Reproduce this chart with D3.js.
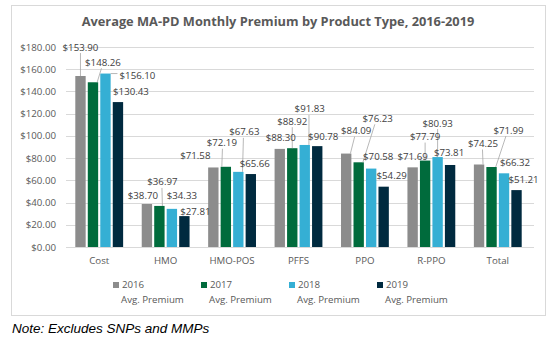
<!DOCTYPE html>
<html>
<head>
<meta charset="utf-8">
<script src="https://cdn.jsdelivr.net/npm/d3@7"></script>
<style>
  body { margin: 0; background: #fff; }
  text { font-family: "Open Sans", "Liberation Sans", sans-serif; }
</style>
</head>
<body>
<svg id="chart" width="558" height="341"></svg>
<script>
// data
const categories = ['Cost', 'HMO', 'HMO-POS', 'PFFS', 'PPO', 'R-PPO', 'Total'];
const series = ['2016', '2017', '2018', '2019'];
const premium2016 = [153.90, 38.70, 71.58, 88.30, 84.09, 71.69, 74.25];
const premium2017 = [148.26, 36.97, 72.19, 88.92, 76.23, 77.79, 71.99];
const premium2018 = [156.10, 34.33, 67.63, 91.83, 70.58, 80.93, 66.32];
const premium2019 = [130.43, 27.81, 65.66, 90.78, 54.29, 73.81, 51.21];
const yTicks = [0, 20, 40, 60, 80, 100, 120, 140, 160, 180];

// label placement offsets (dx from bar centre, dy from bar top), per series
const labelOffsets = [
  [[0, -29], [-4, -9], [-18, -12], [1, -11], [10, -23], [0, -11], [4, -21]],
  [[10, -20], [3, -24], [-4, -24], [0, -27], [19, -44], [0, -24], [17, -37]],
  [[32, 2], [10, -13], [6, -40], [5, -36], [7, -12], [0, -34], [11, -11]],
  [[13, -11], [11, -5], [4, -11], [6, -10], [8, -11], [-1, -12], [7, -11]]
];

const colors = ['#8c8c8c', '#006b3c', '#35afd4', '#002a3f'];
const allValues = [premium2016, premium2017, premium2018, premium2019];

const svg = d3.select('#chart');

// chart frame
svg.append('rect')
  .attr('x', 11.5).attr('y', 5.5)
  .attr('width', 534).attr('height', 310)
  .attr('fill', '#fff')
  .attr('stroke', '#d9d9d9');

svg.append('text')
  .attr('x', 278).attr('y', 26)
  .attr('text-anchor', 'middle')
  .attr('font-size', 12.8)
  .attr('font-weight', 'bold')
  .attr('fill', '#595959')
  .text('Average MA-PD Monthly Premium by Product Type, 2016-2019');

const x0 = d3.scaleBand().domain(categories).range([66, 531]).paddingInner(0.28).paddingOuter(0.14);
const x1 = d3.scaleBand().domain(series).range([0, x0.bandwidth()]).paddingInner(0.17);
const y = d3.scaleLinear().domain([0, 180]).range([247, 47]);

// gridlines
svg.append('g')
  .selectAll('line')
  .data(yTicks)
  .enter()
  .append('line')
  .attr('x1', 66).attr('x2', 534)
  .attr('y1', d => Math.round(y(d)) + 0.5)
  .attr('y2', d => Math.round(y(d)) + 0.5)
  .attr('stroke', '#d9d9d9');

// y axis labels
const yAxis = svg.append('g')
  .attr('transform', 'translate(66,0)')
  .call(d3.axisLeft(y).tickValues(yTicks).tickSize(0).tickPadding(10).tickFormat(d => '$' + d3.format('.2f')(d)));
yAxis.select('.domain').remove();
yAxis.selectAll('text').attr('font-size', 9.7).attr('fill', '#595959').attr('font-family', null);

// x axis labels
const xAxis = svg.append('g')
  .attr('transform', 'translate(0,247)')
  .call(d3.axisBottom(x0).tickSize(0).tickPadding(10));
xAxis.select('.domain').remove();
xAxis.selectAll('text').attr('font-size', 9.7).attr('fill', '#595959').attr('font-family', null);

// bars
const groups = svg.append('g')
  .selectAll('g')
  .data(categories)
  .enter()
  .append('g')
  .attr('transform', d => `translate(${x0(d)},0)`);

groups.selectAll('rect')
  .data((c, i) => series.map((s, j) => ({ s, j, v: allValues[j][i] })))
  .enter()
  .append('rect')
  .attr('x', d => x1(d.s))
  .attr('width', x1.bandwidth())
  .attr('y', d => y(d.v))
  .attr('height', d => y(0) - y(d.v))
  .attr('fill', d => colors[d.j]);

// data labels + leader lines
const labels = [];
categories.forEach((c, i) => {
  series.forEach((s, j) => {
    const v = allValues[j][i];
    const bx = x0(c) + x1(s) + x1.bandwidth() / 2;
    const by = y(v);
    const [dx, dy] = labelOffsets[j][i];
    labels.push({ v, bx, by, lx: bx + dx, ly: by + dy, half: x1.bandwidth() / 2 });
  });
});

svg.append('g')
  .selectAll('line')
  .data(labels.filter(d => d.ly - d.by < -18 || (d.ly > d.by - 4 && d.lx - d.bx > 20)))
  .enter()
  .append('line')
  .attr('x1', d => d.ly > d.by - 4 ? d.lx - 20 : d.lx + (d.bx - d.lx) * 0.15)
  .attr('y1', d => d.ly > d.by - 4 ? d.by : d.ly + 6)
  .attr('x2', d => d.ly > d.by - 4 ? d.bx + d.half : Math.max(d.bx - d.half + 1, Math.min(d.bx + d.half - 1, d.lx)))
  .attr('y2', d => d.by)
  .attr('stroke', '#a6a6a6')
  .attr('stroke-width', 0.8);

svg.append('g')
  .selectAll('text')
  .data(labels)
  .enter()
  .append('text')
  .attr('x', d => d.lx)
  .attr('y', d => d.ly + 3.5)
  .attr('text-anchor', 'middle')
  .attr('font-size', 9.7)
  .attr('fill', '#404040')
  .text(d => '$' + d3.format('.2f')(d.v));

// legend
const legend = svg.append('g')
  .selectAll('g')
  .data(series)
  .enter()
  .append('g')
  .attr('transform', (d, i) => `translate(${113 + i * 88},282)`);

legend.append('rect')
  .attr('width', 6).attr('height', 6)
  .attr('fill', (d, i) => colors[i]);

legend.append('text')
  .attr('x', 9).attr('y', 6)
  .attr('font-size', 9.7)
  .attr('fill', '#595959')
  .text(d => d);

legend.append('text')
  .attr('x', 8).attr('y', 21)
  .attr('font-size', 9.7)
  .attr('fill', '#595959')
  .text('Avg. Premium');

svg.append('text')
  .attr('x', 12).attr('y', 333)
  .attr('font-size', 13.5)
  .attr('font-style', 'italic')
  .attr('fill', '#000')
  .style('font-family', '"Liberation Sans", Arial, sans-serif')
  .text('Note: Excludes SNPs and MMPs');
</script>
</body>
</html>
